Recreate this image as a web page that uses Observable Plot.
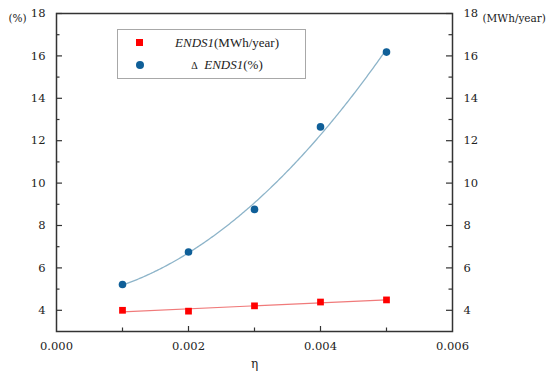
<!DOCTYPE html>
<html><head><meta charset="utf-8">
<script src="https://cdn.jsdelivr.net/npm/d3@7"></script>
<script src="https://cdn.jsdelivr.net/npm/@observablehq/plot@0.6"></script>
<style>
body{margin:0;background:#fff}
#wrap{position:relative;width:550px;height:381px;font-family:"Liberation Serif",serif;color:#222}
.legend{position:absolute;left:117px;top:29px;width:187px;height:48px;border:1px solid #a8a8a8;background:#fff;font-size:13px}
.mk{position:absolute}
.lt{position:absolute;left:40px;width:138px;text-align:center;line-height:16px}
</style></head><body><div id="wrap"></div><script>
// Data
const eta = [0.001, 0.002, 0.003, 0.004, 0.005];
const endsMWh = [4.00, 3.96, 4.21, 4.39, 4.49];      // ENDS1 (MWh/year)
const deltaEnds = [5.22, 6.75, 8.76, 12.65, 16.18];  // Δ ENDS1 (%)
const yMajor = [4, 6, 8, 10, 12, 14, 16, 18];
const yMinor = [5, 7, 9, 11, 13, 15, 17];
const xMajor = [0, 0.002, 0.004, 0.006];
const xMinor = [0.001, 0.003, 0.005];
const yDomain = [3, 18];
const xDomain = [0, 0.006];

const rows = eta.map((x, i) => ({x, e: endsMWh[i], d: deltaEnds[i]}));

// quadratic least-squares fit for the Δ ENDS1 trend curve
function polyfit(xs, ys, deg) {
  const n = deg + 1;
  const A = Array.from({length: n}, () => new Array(n + 1).fill(0));
  xs.forEach((x, k) => {
    for (let i = 0; i < n; i++) {
      for (let j = 0; j < n; j++) A[i][j] += Math.pow(x, i + j);
      A[i][n] += ys[k] * Math.pow(x, i);
    }
  });
  for (let i = 0; i < n; i++) {
    let p = i;
    for (let r = i + 1; r < n; r++) if (Math.abs(A[r][i]) > Math.abs(A[p][i])) p = r;
    [A[i], A[p]] = [A[p], A[i]];
    for (let r = 0; r < n; r++) if (r !== i) {
      const f = A[r][i] / A[i][i];
      for (let c = i; c <= n; c++) A[r][c] -= f * A[i][c];
    }
  }
  return A.map((row, i) => row[n] / row[i]);
}
const xs1 = eta.map(v => v * 1000);
const coef = polyfit(xs1, deltaEnds, 2);
const fitPts = d3.range(0, 201).map(k => {
  const t = xs1[0] + (xs1[xs1.length - 1] - xs1[0]) * k / 200;
  return {x: t / 1000, y: coef[0] + coef[1] * t + coef[2] * t * t};
});

const W = 550, H = 381, mL = 56, mR = 98, mT = 13, mB = 50;
const iw = W - mL - mR, ih = H - mT - mB;
const axisColor = "#333";
const FF = "DejaVu Serif";

const chart = Plot.plot({
  width: W, height: H,
  marginLeft: mL, marginRight: mR, marginTop: mT, marginBottom: mB,
  style: {fontFamily: FF, fontSize: "11.5px", color: "#222", background: "#fff"},
  x: {domain: xDomain},
  y: {domain: yDomain},
  marks: [
    Plot.linearRegressionY(rows, {x: "x", y: "e", stroke: "#f07a7a", strokeWidth: 1.1, ci: 0}),
    Plot.line(fitPts, {x: "x", y: "y", stroke: "#8db4c9", strokeWidth: 1.3}),
    Plot.dot(rows, {x: "x", y: "e", symbol: "square", r: 3.8, fill: "#ff0000"}),
    Plot.dot(rows, {x: "x", y: "d", r: 3.8, fill: "#0f5f98"}),
    Plot.tickY(yMajor, {y: d => d, insetRight: iw - 6, stroke: axisColor, strokeWidth: 1.2}),
    Plot.tickY(yMinor, {y: d => d, insetRight: iw - 3.5, stroke: axisColor, strokeWidth: 1.2}),
    Plot.tickY(yMajor, {y: d => d, insetLeft: iw - 6, stroke: axisColor, strokeWidth: 1.2}),
    Plot.tickY(yMinor, {y: d => d, insetLeft: iw - 3.5, stroke: axisColor, strokeWidth: 1.2}),
    Plot.tickX(xMajor.slice(1, -1), {x: d => d, insetTop: ih - 5, stroke: axisColor, strokeWidth: 1.2}),
    Plot.tickX(xMinor, {x: d => d, insetTop: ih - 3.5, stroke: axisColor, strokeWidth: 1.2}),
    Plot.frame({stroke: axisColor, strokeWidth: 1.5}),
    Plot.axisY({anchor: "left", ticks: yMajor, tickSize: 0, tickPadding: 11, label: null, tickFormat: d3.format("d"), fontFamily: FF, fontSize: 11.5}),
    Plot.axisY({anchor: "right", ticks: yMajor, tickSize: 0, tickPadding: 11, label: null, tickFormat: d3.format("d"), fontFamily: FF, fontSize: 11.5}),
    Plot.axisX({ticks: xMajor, tickSize: 0, tickPadding: 10, label: null, tickFormat: d3.format(".3f"), fontFamily: FF, fontSize: 11.5}),
    Plot.text(["(%)"], {frameAnchor: "top-left", dx: -48, dy: 1, textAnchor: "start", fontSize: 10.5, fontFamily: FF}),
    Plot.text(["(MWh/year)"], {frameAnchor: "top-right", dx: 30, dy: 1, textAnchor: "start", fontSize: 10.5, fontFamily: FF}),
    Plot.text(["η"], {frameAnchor: "bottom", dy: 36, fontSize: 12, fontFamily: FF})
  ]
});

const wrap = document.getElementById("wrap");
wrap.appendChild(chart);

const legend = document.createElement("div");
legend.className = "legend";
legend.innerHTML = `
  <div class="mk" style="left:18px;top:9px;width:7px;height:7px;background:#ff0000"></div>
  <div class="lt" style="top:5px"><i>ENDS1</i>(MWh/year)</div>
  <div class="mk" style="left:18px;top:31px;width:8px;height:8px;border-radius:50%;background:#0f5f98"></div>
  <div class="lt" style="top:27px"><span style="font-size:10px">Δ</span>&nbsp;&nbsp;<i>ENDS1</i>(%)</div>
`;
wrap.appendChild(legend);
</script></body></html>
